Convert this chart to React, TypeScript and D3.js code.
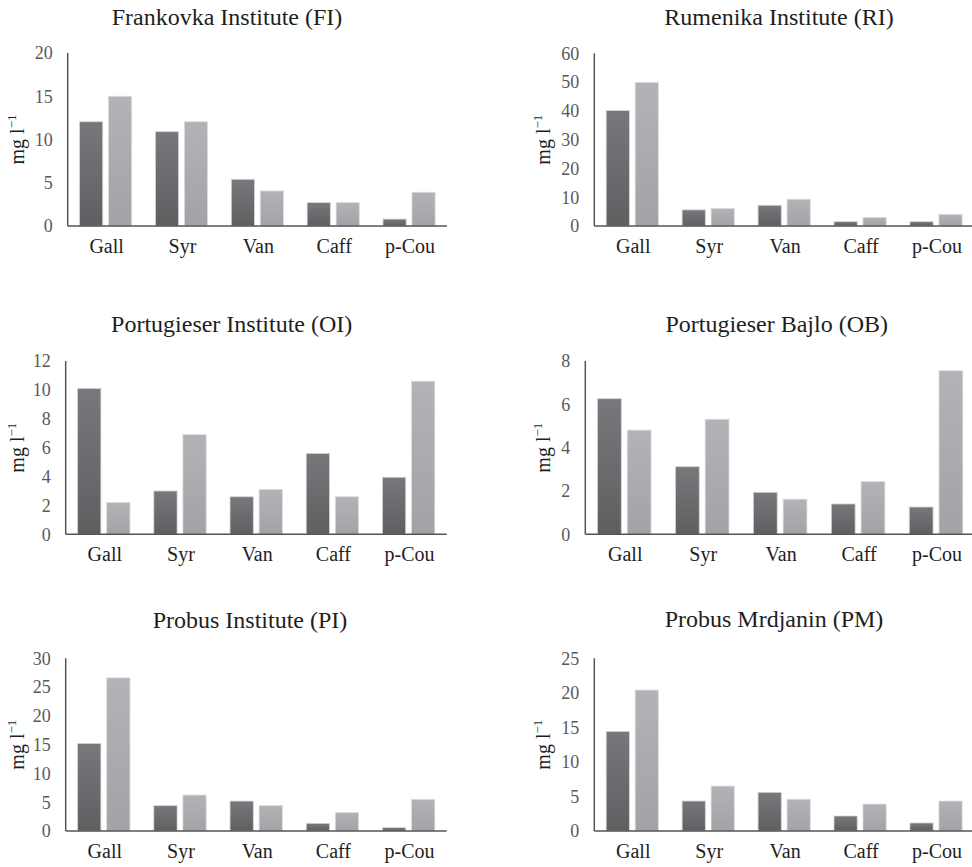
import React from "react";
import * as d3 from "d3";

const categories = ["Gall", "Syr", "Van", "Caff", "p-Cou"];
const titles = [
  "Frankovka Institute (FI)",
  "Rumenika Institute (RI)",
  "Portugieser Institute (OI)",
  "Portugieser Bajlo (OB)",
  "Probus Institute (PI)",
  "Probus Mrdjanin (PM)",
];
// series 1 (dark) and series 2 (light) per panel
const fiDark = [12.05, 10.9, 5.4, 2.7, 0.8];
const fiLight = [15.0, 12.05, 4.05, 2.7, 3.9];
const riDark = [40.1, 5.6, 7.2, 1.5, 1.5];
const riLight = [49.9, 6.1, 9.3, 3.0, 4.05];
const oiDark = [10.1, 3.0, 2.6, 5.6, 3.95];
const oiLight = [2.2, 6.9, 3.1, 2.6, 10.6];
const obDark = [6.26, 3.12, 1.94, 1.4, 1.26];
const obLight = [4.81, 5.31, 1.62, 2.43, 7.55];
const piDark = [15.2, 4.4, 5.2, 1.33, 0.58];
const piLight = [26.6, 6.25, 4.4, 3.2, 5.5];
const pmDark = [14.4, 4.34, 5.6, 2.17, 1.16];
const pmLight = [20.4, 6.5, 4.6, 3.9, 4.34];
const yMaxes = [20, 60, 12, 8, 30, 25];
const yTickSteps = [5, 10, 2, 2, 5, 5];

const darkSeries = [fiDark, riDark, oiDark, obDark, piDark, pmDark];
const lightSeries = [fiLight, riLight, oiLight, obLight, piLight, pmLight];

// layout (pixel geometry)
const layouts = [
  { x0: 67.7, x1: 447, yTop: 53, yBase: 226, tx: 227, ty: 25, labX: 24 },
  { x0: 594.3, x1: 974, yTop: 53.3, yBase: 226, tx: 779, ty: 25, labX: 550 },
  { x0: 65.7, x1: 446.7, yTop: 361, yBase: 534.3, tx: 231.7, ty: 331.7, labX: 24 },
  { x0: 585.3, x1: 975, yTop: 361, yBase: 534.3, tx: 776.7, ty: 331.7, labX: 550 },
  { x0: 65.7, x1: 446.7, yTop: 658.3, yBase: 831, tx: 250, ty: 628, labX: 24 },
  { x0: 594.3, x1: 974, yTop: 658.3, yBase: 831, tx: 774, ty: 627, labX: 550 },
];

const FONT = '"Liberation Serif", "DejaVu Serif", serif';

function Panel({ i }: { i: number }) {
  const L = layouts[i];
  const x = d3.scaleBand<string>().domain(categories).range([L.x0, L.x1]).padding(0);
  const inner = d3
    .scaleBand<string>()
    .domain(["a", "b"])
    .range([0, x.bandwidth()])
    .paddingInner(0.2)
    .paddingOuter(0.41);
  const y = d3.scaleLinear().domain([0, yMaxes[i]]).range([L.yBase, L.yTop]);
  const ticks = d3.range(0, yMaxes[i] + 0.001, yTickSteps[i]);
  const dark = darkSeries[i];
  const light = lightSeries[i];
  const midY = (L.yTop + L.yBase) / 2;
  return (
    <g>
      <text x={L.tx} y={L.ty} textAnchor="middle" fontSize={24} fill="#1e1e1e">
        {titles[i]}
      </text>
      {categories.map((c, k) => (
        <g key={c}>
          <rect
            x={(x(c) as number) + (inner("a") as number)}
            y={y(dark[k])}
            width={inner.bandwidth()}
            height={L.yBase - y(dark[k])}
            fill="url(#gDark)"
            stroke="#d4d4d6"
            strokeWidth={0.8}
          />
          <rect
            x={(x(c) as number) + (inner("b") as number)}
            y={y(light[k])}
            width={inner.bandwidth()}
            height={L.yBase - y(light[k])}
            fill="url(#gLight)"
            stroke="#dcdcde"
            strokeWidth={0.8}
          />
          <text
            x={(x(c) as number) + x.bandwidth() / 2 + 1}
            y={L.yBase + 27}
            textAnchor="middle"
            fontSize={20}
            fill="#1e1e1e"
          >
            {c}
          </text>
        </g>
      ))}
      {ticks.map((t) => (
        <text
          key={t}
          x={L.x0 - 15}
          y={y(t)}
          dy="0.35em"
          textAnchor="end"
          fontSize={18}
          fill="#595959"
        >
          {t}
        </text>
      ))}
      <line x1={L.x0} x2={L.x0} y1={L.yTop} y2={L.yBase} stroke="#555" strokeWidth={1.5} />
      <line x1={L.x0} x2={L.x1} y1={L.yBase} y2={L.yBase} stroke="#555" strokeWidth={1.5} />
      <text
        transform={`translate(${L.labX},${midY}) rotate(-90)`}
        textAnchor="middle"
        fontSize={20}
        fill="#1e1e1e"
      >
        mg l
        <tspan fontSize={13} dy={-8}>
          −1
        </tspan>
      </text>
    </g>
  );
}

export default function App() {
  return (
    <svg
      width={972}
      height={867}
      style={{ position: "absolute", left: 0, top: 0, background: "#fff", fontFamily: FONT }}
    >
      <defs>
        <linearGradient id="gDark" x1="0" y1="0" x2="0" y2="1">
          <stop offset="0%" stopColor="#78787c" />
          <stop offset="100%" stopColor="#5f5f62" />
        </linearGradient>
        <linearGradient id="gLight" x1="0" y1="0" x2="0" y2="1">
          <stop offset="0%" stopColor="#b2b3b6" />
          <stop offset="100%" stopColor="#a2a3a6" />
        </linearGradient>
      </defs>
      <rect width={972} height={867} fill="#fff" />
      {layouts.map((_, i) => (
        <Panel key={i} i={i} />
      ))}
    </svg>
  );
}
